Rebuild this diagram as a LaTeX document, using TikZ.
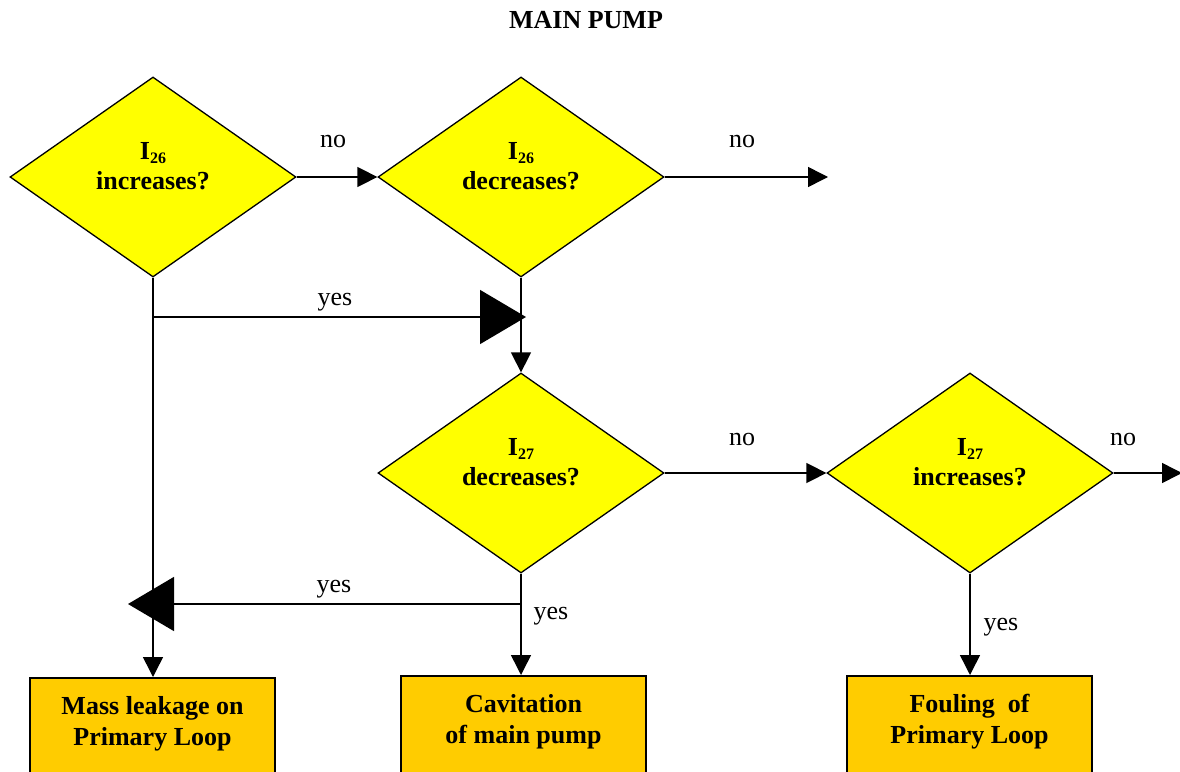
\documentclass[tikz,border=0pt]{standalone}
\usepackage{fontspec}
\setmainfont{Liberation Serif}
\usetikzlibrary{shapes.geometric,arrows.meta}
\definecolor{dyellow}{HTML}{FFFF00}
\definecolor{borange}{HTML}{FFCC00}
\newcommand\sbs[1]{\raisebox{-4pt}{\fontsize{16}{16}\selectfont #1}}
\newcommand\dtext[2]{\raisebox{2pt}[0pt][0pt]{\begin{tabular}{@{}c@{}}I\sbs{#1}\\#2\end{tabular}}}
\newcommand\btext[2]{\parbox[t][140pt][t]{245pt}{\centering\rule{0pt}{37pt}#1\\#2}}
\tikzset{
  decision/.style={diamond, draw=black, line width=1.3pt, fill=dyellow,
    minimum width=286pt, minimum height=200pt, inner sep=0pt,
    font=\fontsize{26}{30}\selectfont\bfseries},
  result/.style={rectangle, draw=black, line width=1.5pt, fill=borange,
    anchor=north, inner sep=0pt, font=\fontsize{26}{31}\selectfont\bfseries},
  conn/.style={draw=black, line width=1.5pt},
  smalltip/.style={-{Triangle[length=20pt,width=20pt]}},
  bigtip/.style={-{Triangle[length=46pt,width=54pt]}},
  lbl/.style={font=\fontsize{26}{30}\selectfont, inner sep=0pt}
}
\begin{document}
\begin{tikzpicture}[x=1pt,y=-1pt]
\clip (0,0) rectangle (1180,771);
\fill[white] (0,0) rectangle (1180,771);

\node[lbl, font=\fontsize{26}{30}\selectfont\bfseries] (title) at (586,20) {MAIN PUMP};

\node[decision] (d1) at (153,177) {\dtext{26}{increases?}};
\node[decision] (d2) at (521,177) {\dtext{26}{decreases?}};
\node[decision] (d3) at (521,473) {\dtext{27}{decreases?}};
\node[decision] (d4) at (970,473) {\dtext{27}{increases?}};

\node[result] (b1) at (152.5,677) {\btext{Mass leakage on}{Primary Loop}};
\node[result] (b2) at (523.5,675) {\btext{Cavitation}{of main pump}};
\node[result] (b3) at (969.5,675) {\btext{Fouling~ of}{Primary Loop}};

\coordinate (e1) at (828,177);
\coordinate (e2) at (1182,473);
\coordinate (j1) at (153,317);
\coordinate (t1) at (526,317);
\coordinate (j2) at (521,604);
\coordinate (t2) at (128,604);

\draw[conn, smalltip] (d1.east) -- (d2.west);
\draw[conn, smalltip] (d2.east) -- (e1);
\draw[conn, smalltip] (d1.south) -- (d1.south |- b1.north);
\draw[conn, bigtip] (j1) -- (t1);
\draw[conn, smalltip] (d2.south) -- (d3.north);
\draw[conn, smalltip] (d3.east) -- (d4.west);
\draw[conn, smalltip] (d4.east) -- (e2);
\draw[conn, smalltip] (d3.south) -- (d3.south |- b2.north);
\draw[conn, bigtip] (j2) -- (t2);
\draw[conn, smalltip] (d4.south) -- (d4.south |- b3.north);

\node[lbl] (l1) at (333,141) {no};
\node[lbl] (l2) at (742,141) {no};
\node[lbl] (l3) at (335,302) {yes};
\node[lbl] (l4) at (742,439) {no};
\node[lbl] (l5) at (1123,439) {no};
\node[lbl] (l6) at (334,589) {yes};
\node[lbl] (l7) at (551,616) {yes};
\node[lbl] (l8) at (1001,627) {yes};
\end{tikzpicture}
\end{document}
